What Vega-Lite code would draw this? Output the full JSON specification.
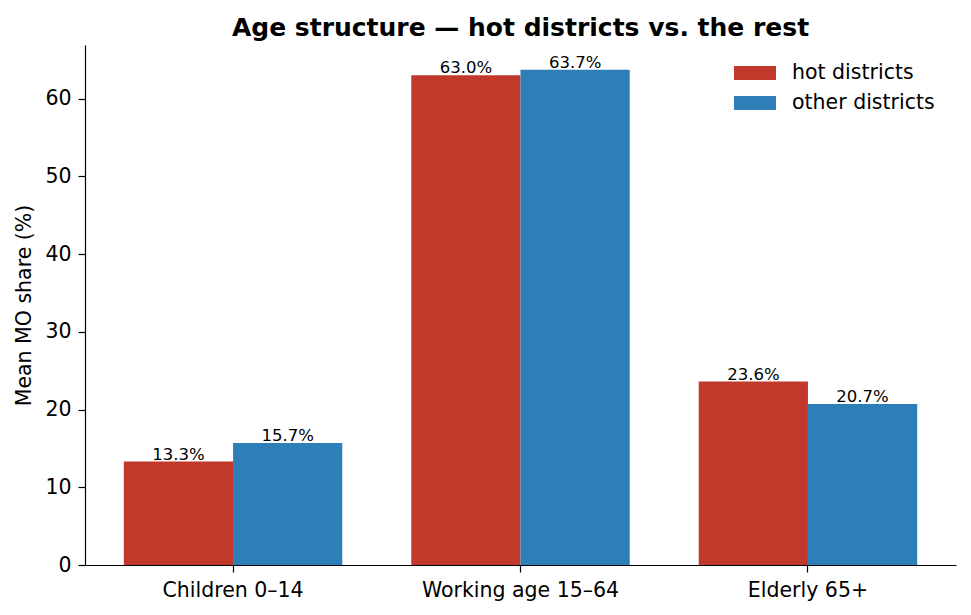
{
  "$schema": "https://vega.github.io/schema/vega-lite/v6.json",
  "width": 871,
  "height": 520,
  "autosize": {"type": "none"},
  "padding": {"left": 85, "top": 45, "right": 15, "bottom": 50},
  "background": "white",
  "title": {
    "text": "Age structure — hot districts vs. the rest",
    "font": "DejaVu Sans",
    "fontSize": 25,
    "fontWeight": "bold",
    "color": "black",
    "anchor": "middle",
    "offset": 4
  },
  "data": {
    "values": [
      {"group": "Children 0–14", "series": "hot districts", "share": 13.3},
      {"group": "Children 0–14", "series": "other districts", "share": 15.7},
      {"group": "Working age 15–64", "series": "hot districts", "share": 63.0},
      {"group": "Working age 15–64", "series": "other districts", "share": 63.7},
      {"group": "Elderly 65+", "series": "hot districts", "share": 23.6},
      {"group": "Elderly 65+", "series": "other districts", "share": 20.7}
    ]
  },
  "transform": [
    {"calculate": "format(datum.share, '.1f') + '%'", "as": "label"}
  ],
  "encoding": {
    "x": {
      "field": "group",
      "type": "nominal",
      "sort": null,
      "title": null,
      "scale": {"paddingInner": 0.24, "paddingOuter": 0.135},
      "axis": {
        "labelAngle": 0,
        "labelLimit": 0,
        "labelFont": "DejaVu Sans",
        "labelFontSize": 20.5,
        "labelColor": "black",
        "labelPadding": 8,
        "tickColor": "black",
        "tickSize": 7,
        "tickWidth": 1.2,
        "domainColor": "black",
        "domainWidth": 1.2,
        "grid": false
      }
    },
    "xOffset": {"field": "series", "type": "nominal", "scale": {"paddingInner": 0, "paddingOuter": 0}},
    "y": {
      "field": "share",
      "type": "quantitative",
      "title": "Mean MO share (%)",
      "scale": {"domain": [0, 66.9], "nice": false},
      "axis": {
        "values": [0, 10, 20, 30, 40, 50, 60],
        "labelFont": "DejaVu Sans",
        "labelFontSize": 20.5,
        "labelColor": "black",
        "labelPadding": 7,
        "tickColor": "black",
        "tickSize": 7,
        "tickWidth": 1.2,
        "domainColor": "black",
        "domainWidth": 1.2,
        "grid": false,
        "titleFont": "DejaVu Sans",
        "titleFontSize": 20.5,
        "titleFontWeight": "normal",
        "titleColor": "black",
        "titlePadding": 10
      }
    }
  },
  "layer": [
    {
      "mark": {"type": "bar"},
      "encoding": {
        "color": {
          "field": "series",
          "type": "nominal",
          "scale": {"domain": ["hot districts", "other districts"], "range": ["#c0392b", "#2e7fb8"]},
          "legend": {
            "title": null,
            "orient": "none",
            "legendX": 655,
            "legendY": 13,
            "padding": 0,
            "symbolType": "M-1.4,-0.467L1.4,-0.467L1.4,0.467L-1.4,0.467Z",
            "symbolSize": 900,
            "symbolStrokeWidth": 0,
            "symbolOpacity": 1,
            "labelFont": "DejaVu Sans",
            "labelFontSize": 20.5,
            "labelColor": "black",
            "labelOffset": 22,
            "rowPadding": 4
          }
        }
      }
    },
    {
      "mark": {"type": "text", "baseline": "alphabetic", "dy": -2, "font": "DejaVu Sans", "fontSize": 16.5, "color": "black"},
      "encoding": {
        "text": {"field": "label", "type": "nominal"}
      }
    }
  ],
  "config": {
    "view": {"stroke": null}
  }
}
